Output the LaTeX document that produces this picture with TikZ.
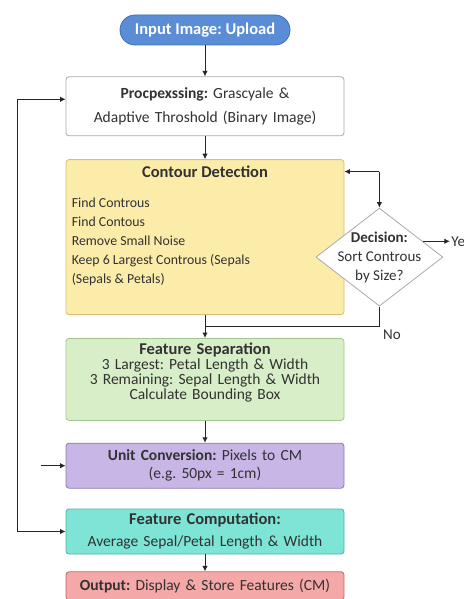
\documentclass[tikz,border=0pt]{standalone}
\usepackage{fontspec}
\setmainfont{Carlito}
\frenchspacing
\usetikzlibrary{shapes.geometric, arrows.meta, positioning, calc}
\definecolor{PillBlue}{RGB}{91,141,214}
\definecolor{PillEdge}{RGB}{60,110,190}
\definecolor{PrepEdge}{RGB}{170,170,170}
\definecolor{SandFill}{RGB}{252,236,170}
\definecolor{SandEdge}{RGB}{215,190,120}
\definecolor{SageFill}{RGB}{216,238,200}
\definecolor{SageEdge}{RGB}{160,200,140}
\definecolor{LilacFill}{RGB}{200,182,230}
\definecolor{LilacEdge}{RGB}{140,120,180}
\definecolor{TealFill}{RGB}{125,228,214}
\definecolor{TealEdge}{RGB}{70,180,165}
\definecolor{RoseFill}{RGB}{244,168,168}
\definecolor{RoseEdge}{RGB}{200,100,100}
\definecolor{TextGray}{RGB}{50,50,50}

\begin{document}
\begin{tikzpicture}[x=1pt, y=1pt,
    pill/.style={rectangle, draw=PillEdge, fill=PillBlue, rounded corners=15pt, minimum width=170pt, minimum height=30pt, text=white, font=\fontsize{16.5}{18}\selectfont\bfseries, line width=0.8pt, inner sep=2pt},
    stage/.style={rectangle, rounded corners=3pt, minimum width=278pt, text width=272pt, align=center, text=TextGray, line width=0.8pt, inner sep=3pt},
    decision/.style={diamond, draw=PrepEdge, fill=white, minimum width=127pt, minimum height=98pt, inner sep=-8pt, aspect=1.3, align=center, text=TextGray, line width=0.8pt, font=\fontsize{15}{19}\selectfont},
    heading/.style={text=TextGray, font=\fontsize{16.5}{19}\selectfont\bfseries},
    label/.style={text=TextGray, font=\fontsize{15}{17}\selectfont},
    arrow/.style={-{Latex[length=5.5pt,width=5.5pt]}, line width=1pt, black!85},
    biarrow/.style={{Latex[length=5.5pt,width=5.5pt]}-{Latex[length=5.5pt,width=5.5pt]}, line width=1pt, black!85},
    line/.style={line width=1pt, black!85}
  ]
  \useasboundingbox (0,0) rectangle (463,-599);

  \node (input) [pill] at (205,-30) {Input Image: Upload};
  \node (prep) [stage, draw=PrepEdge, fill=white, minimum height=59pt, font=\fontsize{15.5}{26}\selectfont, below=31pt of input] {\raisebox{-2pt}{\textbf{Procpexssing:} Grascyale \&}\\ Adaptive Throshold (Binary Image)};
  \node (contour) [stage, draw=SandEdge, fill=SandFill, minimum height=155pt, below=23pt of prep] {};
  \node (contourtitle) [heading, below=3pt of contour.north] {Contour Detection};
  \node (contourlist) [below right=39pt and 6pt of contour.north west, inner sep=0pt, align=left, text=TextGray, font=\fontsize{13.8}{19}\selectfont] {Find Controus\\ Find Contous\\ Remove Small Noise\\ Keep 6 Largest Controus (Sepals\\ (Sepals \& Petals)};
  \node (decision) [decision] at ($(contour.east)+(35pt,-20pt)$) {\textbf{Decision:}\\ Sort Controus\\ by Size?};
  \node (featsep) [stage, draw=SageEdge, fill=SageFill, minimum height=82pt, below=23pt of contour] {};
  \node (featseptext) [text width=272pt, align=center, inner sep=0pt, text=TextGray, font=\fontsize{15.5}{15}\selectfont] at ($(featsep.center)+(0,7pt)$) {{\fontsize{16.5}{15}\selectfont\bfseries Feature Separation}\\ 3 Largest: Petal Length \& Width\\ 3 Remaining: Sepal Length \& Width\\ Calculate Bounding Box};
  \node (unit) [stage, draw=LilacEdge, fill=LilacFill, minimum height=45pt, font=\fontsize{15.5}{18}\selectfont, below=22pt of featsep] {\textbf{Unit Conversion:} Pixels to CM\\ (e.g. 50px = 1cm)};
  \node (featcomp) [stage, draw=TealEdge, fill=TealFill, minimum height=45pt, font=\fontsize{15.5}{22}\selectfont, below=20pt of unit] {{\fontsize{16.5}{22}\selectfont\bfseries Feature Computation:}\\ Average Sepal/Petal Length \& Width};
  \node (output) [stage, draw=RoseEdge, fill=RoseFill, minimum height=28pt, font=\fontsize{15.5}{17}\selectfont, below=17pt of featcomp] {\textbf{Output:} Display \& Store Features (CM)};

  \coordinate (fork) at (decision.north |- contourtitle);
  \coordinate (nojoin) at ($(contour.south)+(0,-11pt)$);
  \coordinate (loop) at ($(prep.west)+(-48pt,7pt)$);
  \coordinate (unitin) at ($(unit.west)+(-25pt,0)$);

  \draw [arrow] (input) -- (prep);
  \draw [arrow] (prep) -- (contour);
  \draw [arrow] (contour) -- (featsep);
  \draw [arrow] (featsep) -- (unit);
  \draw [arrow] (featcomp) -- (output);
  \draw [arrow] (fork) -- (contour.east |- fork);
  \draw [arrow] (fork) -- (decision.north);
  \draw [arrow] (decision.20) -- ++(27pt,0) node (yes) [label, right, inner sep=1pt] {Yes};
  \draw [line] (decision.south) |- (nojoin) node (no) [label, pos=0.5, below right] {No};
  \draw [biarrow] (prep.west |- loop) -- (loop) |- (featcomp.west);
  \draw [arrow] (unitin) -- (unit);
\end{tikzpicture}
\end{document}
